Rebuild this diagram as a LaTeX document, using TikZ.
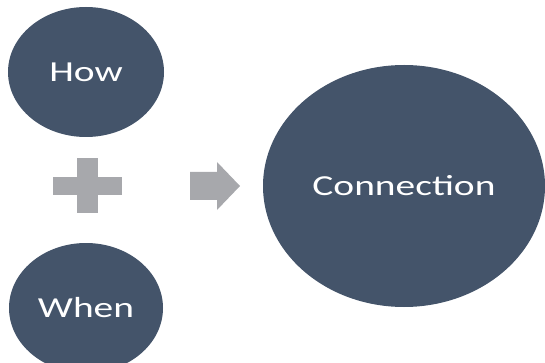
\documentclass[tikz,border=0pt]{standalone}
\usepackage{fontspec}
\setmainfont{Carlito}
\usetikzlibrary{shapes.geometric}
\definecolor{slate}{HTML}{44546A}
\definecolor{signgray}{HTML}{A7A8AC}
\newcommand{\wide}[1]{\scalebox{1.36}[1]{#1}}
\begin{document}
\begin{tikzpicture}[x=1pt,y=-1pt,
  bubble/.style={ellipse,fill=slate,text=white,inner sep=0pt,
    font=\fontsize{29}{30}\selectfont}]
  \useasboundingbox (0,0) rectangle (545,363);
  \node[bubble,minimum width=156pt,minimum height=130pt] (how) at (86,72) {\wide{How}};
  \node[bubble,minimum width=154pt,minimum height=130pt] (when) at (86,308) {\wide{When}};
  \node[bubble,minimum width=282pt,minimum height=242pt] (conn) at (404,186) {\wide{Connection}};
  % plus sign
  \fill[signgray] (53,177) rectangle (122,195);
  \fill[signgray] (77,158) rectangle (98,213);
  % arrow
  \fill[signgray] (190,172) -- (217,172) -- (217,162) -- (240,186)
    -- (217,210) -- (217,200) -- (190,200) -- cycle;
\end{tikzpicture}
\end{document}
